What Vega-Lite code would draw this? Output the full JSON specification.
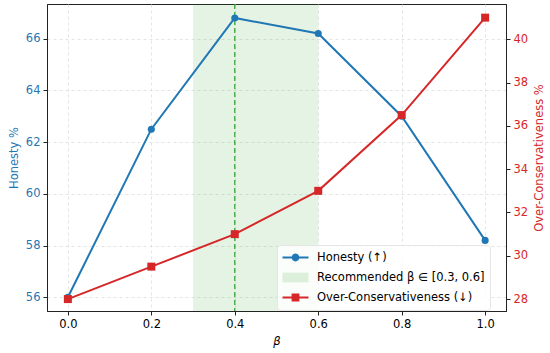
{
  "$schema": "https://vega.github.io/schema/vega-lite/v6.json",
  "width": 459,
  "height": 307,
  "autosize": {"type": "none"},
  "padding": {"left": 47, "top": 4, "right": 44, "bottom": 42},
  "config": {
    "font": "DejaVu Sans",
    "view": {"stroke": "#222222", "strokeWidth": 1},
    "axis": {
      "labelFont": "DejaVu Sans",
      "titleFont": "DejaVu Sans",
      "labelFontSize": 11.5,
      "titleFontSize": 11.5,
      "titleFontWeight": "normal",
      "tickColor": "#222222",
      "domainColor": "#222222",
      "tickSize": 4,
      "labelPadding": 3,
      "gridColor": "#dddddd",
      "gridDash": [3, 3],
      "gridWidth": 0.8,
      "labelColor": "#000000",
      "titleColor": "#000000"
    },
    "legend": {"labelFont": "DejaVu Sans", "labelFontSize": 11.5}
  },
  "datasets": {
    "main": [
      {"beta": 0.0, "value": 56.0, "series": "Honesty (↑)"},
      {"beta": 0.2, "value": 62.5, "series": "Honesty (↑)"},
      {"beta": 0.4, "value": 66.8, "series": "Honesty (↑)"},
      {"beta": 0.6, "value": 66.2, "series": "Honesty (↑)"},
      {"beta": 0.8, "value": 63.0, "series": "Honesty (↑)"},
      {"beta": 1.0, "value": 58.2, "series": "Honesty (↑)"},
      {"beta": 0.0, "value": 28.0, "series": "Over-Conservativeness (↓)"},
      {"beta": 0.2, "value": 29.5, "series": "Over-Conservativeness (↓)"},
      {"beta": 0.4, "value": 31.0, "series": "Over-Conservativeness (↓)"},
      {"beta": 0.6, "value": 33.0, "series": "Over-Conservativeness (↓)"},
      {"beta": 0.8, "value": 36.5, "series": "Over-Conservativeness (↓)"},
      {"beta": 1.0, "value": 41.0, "series": "Over-Conservativeness (↓)"}
    ],
    "band": [{"start": 0.3, "end": 0.6, "best": 0.4}],
    "legend": [
      {"series": "Honesty (↑)"},
      {"series": "Recommended β ∈ [0.3, 0.6]"},
      {"series": "Over-Conservativeness (↓)"}
    ]
  },
  "encoding": {
    "x": {
      "field": "beta",
      "type": "quantitative",
      "scale": {"domain": [-0.05, 1.05], "nice": false, "zero": false},
      "axis": {"values": [0, 0.2, 0.4, 0.6, 0.8, 1.0], "format": ".1f", "title": "β", "titleFontStyle": "italic", "grid": true, "titlePadding": 6}
    }
  },
  "layer": [
    {
      "data": {"name": "band"},
      "mark": {"type": "rect", "color": "#2ca02c", "opacity": 0.12},
      "encoding": {"x": {"field": "start", "type": "quantitative"}, "x2": {"field": "end"}}
    },
    {
      "data": {"name": "band"},
      "mark": {"type": "rule", "color": "#2ca02c", "strokeDash": [5, 3], "strokeWidth": 1.2},
      "encoding": {"x": {"field": "best", "type": "quantitative"}}
    },
    {
      "data": {"name": "main"},
      "transform": [{"filter": "datum.series === 'Honesty (↑)'"}],
      "encoding": {
        "y": {
          "field": "value",
          "type": "quantitative",
          "scale": {"domain": [55.47, 67.34], "nice": false, "zero": false},
          "axis": {"orient": "left", "values": [56, 58, 60, 62, 64, 66], "title": "Honesty %", "labelColor": "#1f77b4", "titleColor": "#1f77b4", "grid": true, "titlePadding": 6}
        }
      },
      "layer": [
        {"mark": {"type": "line", "strokeWidth": 2, "color": "#1f77b4"}},
        {"mark": {"type": "point", "shape": "circle", "filled": true, "size": 50, "opacity": 1, "color": "#1f77b4"}}
      ]
    },
    {
      "data": {"name": "main"},
      "transform": [{"filter": "datum.series === 'Over-Conservativeness (↓)'"}],
      "encoding": {
        "y": {
          "field": "value",
          "type": "quantitative",
          "scale": {"domain": [27.45, 41.63], "nice": false, "zero": false},
          "axis": {"orient": "right", "values": [28, 30, 32, 34, 36, 38, 40], "title": "Over-Conservativeness %", "titleAngle": 270, "titleBaseline": "top", "labelColor": "#d62728", "titleColor": "#d62728", "grid": false, "titlePadding": 6}
        }
      },
      "layer": [
        {"mark": {"type": "line", "strokeWidth": 2, "color": "#d62728"}},
        {"mark": {"type": "point", "shape": "square", "filled": true, "size": 64, "opacity": 1, "color": "#d62728"}}
      ]
    },
    {
      "data": {"name": "legend"},
      "mark": {"type": "point", "filled": true, "opacity": 0},
      "encoding": {
        "x": {"value": 0},
        "y": {"value": 0},
        "color": {
          "field": "series",
          "type": "nominal",
          "scale": {"domain": ["Honesty (↑)", "Recommended β ∈ [0.3, 0.6]", "Over-Conservativeness (↓)"], "range": ["#1f77b4", "#dcefda", "#d62728"]},
          "legend": {
            "orient": "none",
            "legendX": 230,
            "legendY": 241,
            "title": null,
            "symbolSize": 169,
            "symbolOpacity": 1,
            "symbolOffset": 6,
            "labelOffset": 14,
            "labelLimit": 300,
            "rowPadding": 4,
            "padding": 5,
            "fillColor": "rgba(255,255,255,0.8)",
            "strokeColor": "#e6e6e6",
            "cornerRadius": 3
          }
        },
        "shape": {
          "field": "series",
          "type": "nominal",
          "scale": {
            "domain": ["Honesty (↑)", "Recommended β ∈ [0.3, 0.6]", "Over-Conservativeness (↓)"],
            "range": [
              "M-2,-0.15H2V0.15H-2ZM0.6,0A0.6,0.6,0,1,1,-0.6,0A0.6,0.6,0,1,1,0.6,0Z",
              "M-2,-0.75H2V0.75H-2Z",
              "M-2,-0.15H2V0.15H-2ZM-0.6,-0.6H0.6V0.6H-0.6Z"
            ]
          },
          "legend": {
            "orient": "none",
            "legendX": 230,
            "legendY": 241,
            "title": null,
            "symbolSize": 169,
            "symbolOpacity": 1,
            "symbolOffset": 6,
            "labelOffset": 14,
            "labelLimit": 300,
            "rowPadding": 4,
            "padding": 5,
            "fillColor": "rgba(255,255,255,0.8)",
            "strokeColor": "#e6e6e6",
            "cornerRadius": 3
          }
        }
      }
    }
  ],
  "resolve": {"scale": {"y": "independent"}}
}
